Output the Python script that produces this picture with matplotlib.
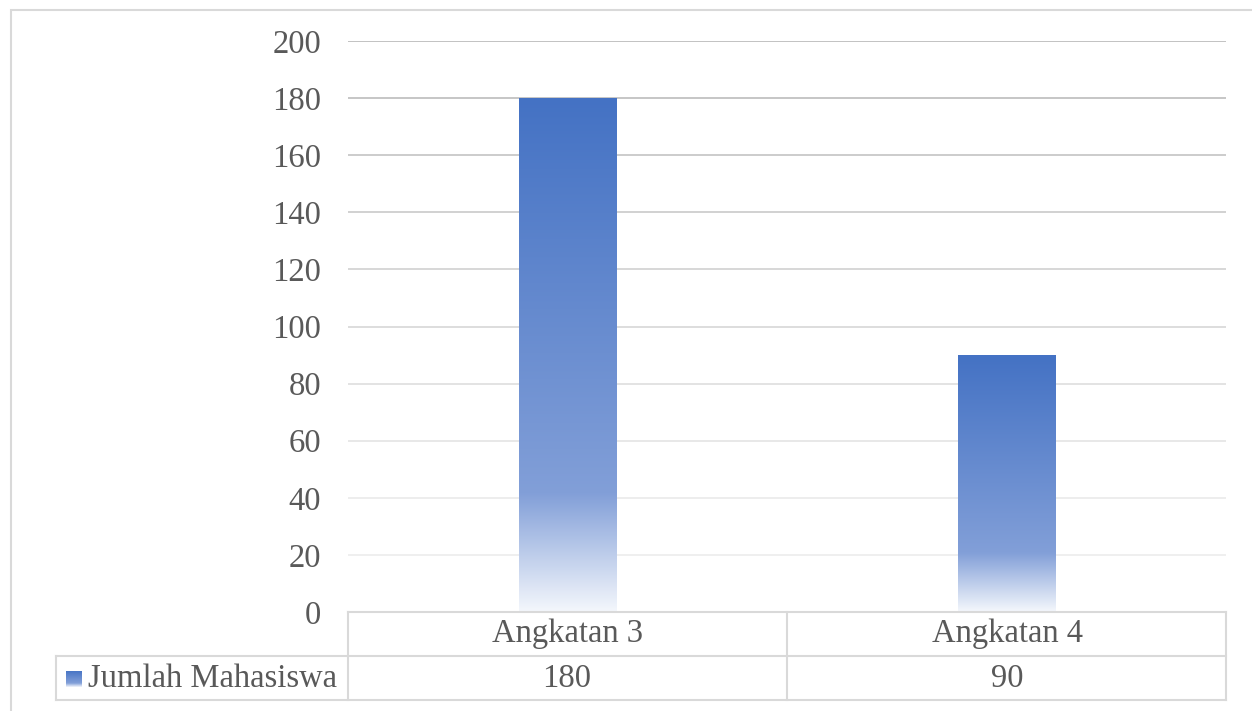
import numpy as np
import matplotlib
matplotlib.use("Agg")
import matplotlib.pyplot as plt
from matplotlib.colors import LinearSegmentedColormap
from matplotlib.patches import Rectangle
from matplotlib.lines import Line2D

categories = ["Angkatan 3", "Angkatan 4"]
values = [180, 90]
series_name = "Jumlah Mahasiswa"
yticks = [0, 20, 40, 60, 80, 100, 120, 140, 160, 180, 200]

plt.rcParams['font.family'] = ['Liberation Serif', 'DejaVu Serif']
txt = '#595959'
fs = 23.5
W, H = 1252, 711

fig = plt.figure(figsize=(W / 100, H / 100), dpi=100)
ax = fig.add_axes([348 / W, 1 - 612 / H, (1226 - 348) / W, (612 - 41) / H])

# excel-ish gradient: solid blue at top, fading to white near the bottom
cmap = LinearSegmentedColormap.from_list(
    'grad', [(0.0, '#F4F7FC'), (0.23, '#829FD8'), (1.0, '#4472C4')])
grad = np.linspace(0, 1, 256).reshape(-1, 1)

x = np.arange(len(categories))
bw = 0.223
bars = ax.bar(x, values, width=bw, color='none', edgecolor='none', zorder=3)
for b in bars:
    x0, y0 = b.get_x(), b.get_y()
    im = ax.imshow(grad, cmap=cmap, aspect='auto', origin='lower',
                   extent=[x0, x0 + b.get_width(), y0, y0 + b.get_height()],
                   zorder=3, interpolation='bilinear')
    im.set_clip_path(b)

# gridlines fade a bit towards the bottom
grid_cols = ['#D9D9D9', '#EEEEEE', '#ECECEC', '#E6E6E6', '#E0E0E0', '#DADADA',
             '#D4D4D4', '#CECECE', '#C8C8C8', '#C2C2C2', '#BDBDBD']
for t, c in zip(yticks, grid_cols):
    ax.axhline(t, color=c, lw=1.3, zorder=1)

ax.set_xlim(-0.5, 1.5)
ax.set_ylim(0, 200)
ax.set_yticks(yticks)
ax.set_yticklabels([str(t) for t in yticks])
ax.tick_params(axis='y', length=0, pad=19.5, labelsize=fs, labelcolor=txt)
ax.set_xticks([])
for s in ax.spines.values():
    s.set_visible(False)


def fx(px):
    return px / W


def fy(py):
    return 1 - py / H


lc = '#D9D9D9'
# data table
lines = [
    (348, 612, 348, 700), (787, 612, 787, 700), (1226, 612, 1226, 700),
    (348, 612, 1226, 612), (56, 656, 1226, 656), (56, 700, 1226, 700),
    (56, 656, 56, 700),
]
for x1, y1, x2, y2 in lines:
    fig.add_artist(Line2D([fx(x1), fx(x2)], [fy(y1), fy(y2)], color=lc, lw=1.5))

# outer chart border
fig.add_artist(Rectangle((fx(11), -0.01), 1.0, fy(10) + 0.01, fill=False,
                         edgecolor=lc, lw=1.5, transform=fig.transFigure))

centers = [567, 1007]
for cx, cat, v in zip(centers, categories, values):
    fig.text(fx(cx), fy(634), cat, ha='center', va='center', fontsize=fs, color=txt)
    fig.text(fx(cx), fy(679), str(v), ha='center', va='center', fontsize=fs, color=txt)

# legend key with the same gradient
kax = fig.add_axes([fx(66), fy(687), fx(82) - fx(66), fy(671) - fy(687)])
kax.imshow(grad, cmap=cmap, aspect='auto', origin='lower')
kax.axis('off')
fig.text(fx(88), fy(679), series_name, ha='left', va='center', fontsize=fs, color=txt)

fig.savefig('out.png', dpi=100)
